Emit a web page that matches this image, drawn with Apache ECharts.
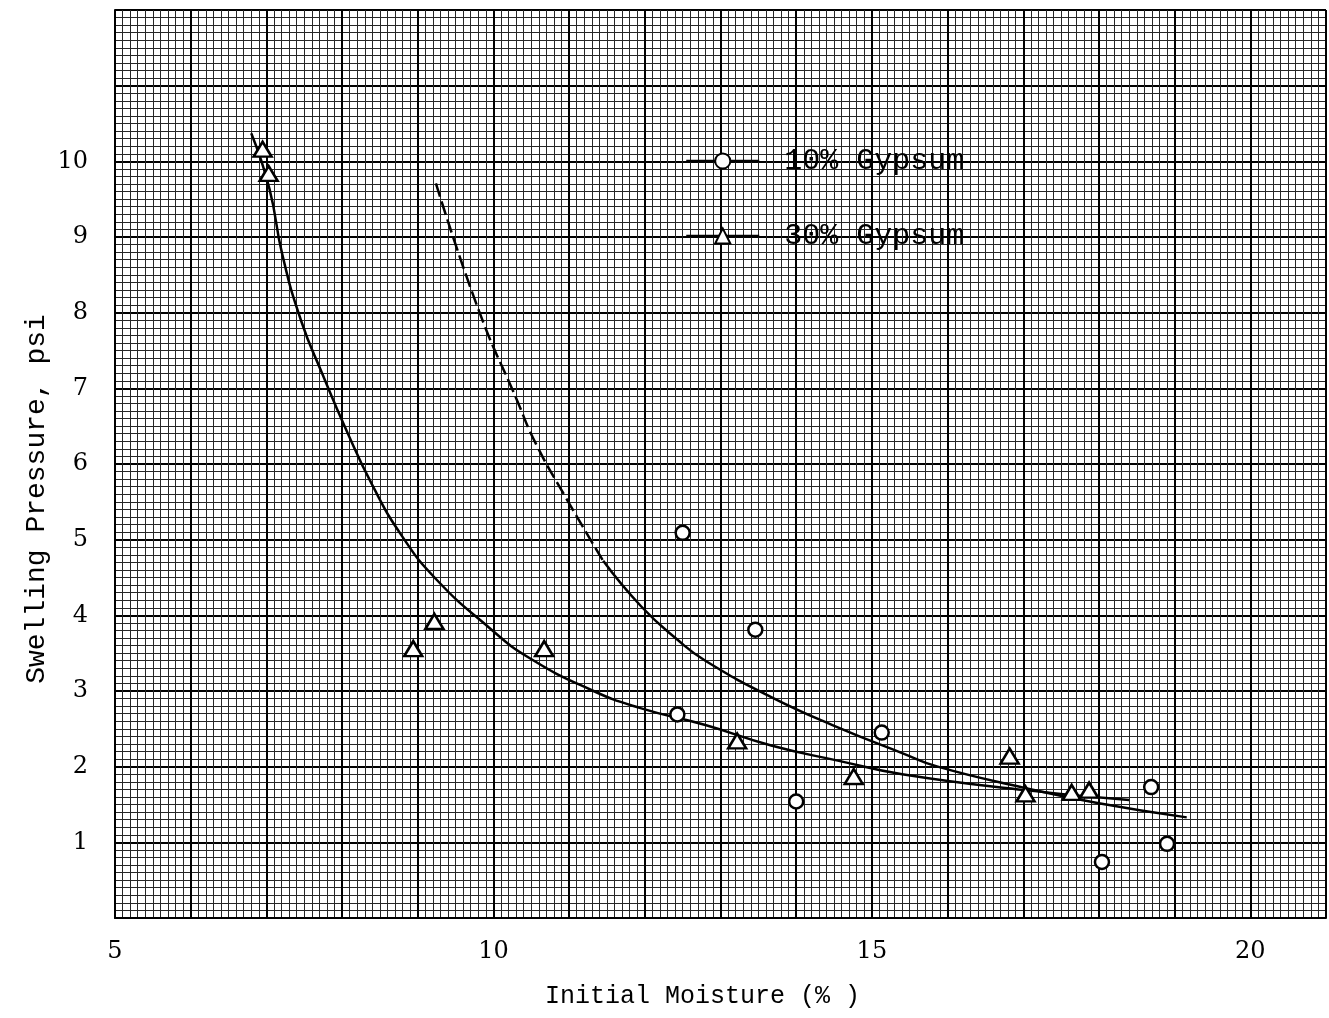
<!DOCTYPE html>
<html>
<head>
<meta charset="utf-8">
<script src="https://cdn.jsdelivr.net/npm/echarts@6/dist/echarts.min.js"></script>
<style>
html,body{margin:0;padding:0;background:#fff;}
#chart{width:1329px;height:1018px;}
</style>
</head>
<body>
<div id="chart"></div>
<script>
// ---- data ----
var xTickLabels = [5, 10, 15, 20];
var yTickLabels = [1, 2, 3, 4, 5, 6, 7, 8, 9, 10];

var gypsum10Points = [
  [12.50, 5.09], [13.46, 3.81], [12.43, 2.69], [15.13, 2.45],
  [14.00, 1.54], [18.69, 1.73], [18.04, 0.74], [18.90, 0.98]
];
var gypsum30Points = [
  [6.95, 10.16], [7.03, 9.84], [8.94, 3.56], [9.22, 3.92], [10.67, 3.56],
  [13.22, 2.34], [14.76, 1.87], [16.82, 2.14], [17.03, 1.64],
  [17.64, 1.66], [17.87, 1.69]
];
// fitted curve for 30% gypsum (solid)
var curve30 = [
  [6.80, 10.37], [7.04, 9.64], [7.21, 8.77], [7.46, 7.89], [7.74, 7.19],
  [8.06, 6.44], [8.40, 5.72], [8.79, 5.05], [9.24, 4.48], [9.94, 3.84],
  [10.47, 3.44], [11.30, 3.01], [11.92, 2.78], [12.80, 2.55], [13.67, 2.28],
  [14.55, 2.08], [15.40, 1.90], [17.02, 1.69], [18.40, 1.56]
];
// fitted curve for 10% gypsum: dashed upper part, solid lower part
var curve10Dashed = [
  [9.24, 9.71], [9.81, 8.02], [10.30, 6.87], [10.56, 6.27], [10.96, 5.55], [11.45, 4.72]
];
var curve10Solid = [
  [11.45, 4.72], [11.95, 4.12], [12.44, 3.67], [12.80, 3.40], [13.67, 2.92], [14.55, 2.52],
  [15.40, 2.18], [15.87, 2.00], [17.02, 1.72], [17.98, 1.52], [19.16, 1.33]
];
var seriesNames = ['10% Gypsum', '30% Gypsum'];
var xTitle = 'Initial Moisture (% )';
var yTitle = 'Swelling Pressure, psi';

var chart = echarts.init(document.getElementById('chart'), null, {renderer: 'canvas'});
var tickFont = 'DejaVu Serif';
var labelFont = 'Liberation Mono';

var curveStyle = {color: '#000', width: 2.5};

function legendCfg(name, top) {
  return {
    data: [name], left: 685, top: top, padding: 0,
    itemWidth: 73, itemHeight: 19,
    lineStyle: {color: '#000', width: 2.5, opacity: 1, type: 'solid'},
    textStyle: {color: '#000', fontFamily: labelFont, fontSize: 30, lineHeight: 30, padding: [0, 0, 0, 20]}
  };
}

var option = {
  backgroundColor: '#fff',
  animation: false,
  grid: {left: 115, right: 0, top: 10, bottom: 100, containLabel: false},
  xAxis: {
    type: 'value', min: 5, max: 21, interval: 1,
    axisLine: {show: true, onZero: false, lineStyle: {color: '#000', width: 2}},
    axisTick: {show: false},
    axisLabel: {
      color: '#000', fontFamily: tickFont, fontSize: 24, margin: 22,
      formatter: function (v) { return xTickLabels.indexOf(v) >= 0 ? String(v) : ''; }
    },
    splitLine: {show: true, lineStyle: {color: '#000', width: 2}},
    minorTick: {show: false, splitNumber: 10},
    minorSplitLine: {show: true, lineStyle: {color: '#262626', width: 1}}
  },
  yAxis: {
    type: 'value', min: 0, max: 12, interval: 1,
    axisLine: {show: true, onZero: false, lineStyle: {color: '#000', width: 2}},
    axisTick: {show: false},
    axisLabel: {
      color: '#000', fontFamily: tickFont, fontSize: 24, margin: 27,
      formatter: function (v) { return yTickLabels.indexOf(v) >= 0 ? String(v) : ''; }
    },
    splitLine: {show: true, lineStyle: {color: '#000', width: 2}},
    minorTick: {show: false, splitNumber: 10},
    minorSplitLine: {show: true, lineStyle: {color: '#262626', width: 1}}
  },
  legend: [legendCfg(seriesNames[0], 146), legendCfg(seriesNames[1], 221)],
  graphic: [
    {
      type: 'text', left: 545, top: 984,
      style: {text: xTitle, fill: '#000', font: '25px "Liberation Mono"', textAlign: 'left'}
    },
    {
      type: 'text', x: 37, y: 499, rotation: Math.PI / 2,
      style: {text: yTitle, fill: '#000', font: '28px "Liberation Mono"', textAlign: 'center', textVerticalAlign: 'middle'}
    }
  ],
  series: [
    {
      name: 'c30', type: 'line', data: curve30, smooth: 0.5,
      showSymbol: false, silent: true, lineStyle: curveStyle, z: 3
    },
    {
      name: 'c10d', type: 'line', data: curve10Dashed, smooth: 0.5,
      showSymbol: false, silent: true, lineStyle: {color: '#000', width: 2.5, type: [14, 5]}, z: 3
    },
    {
      name: 'c10s', type: 'line', data: curve10Solid, smooth: 0.5,
      showSymbol: false, silent: true, lineStyle: curveStyle, z: 3
    },
    {
      name: seriesNames[0], type: 'line', data: gypsum10Points,
      symbol: 'circle', symbolSize: 14, showSymbol: true,
      lineStyle: {opacity: 0, width: 0},
      itemStyle: {color: '#fff', borderColor: '#000', borderWidth: 2.5},
      z: 5
    },
    {
      name: seriesNames[1], type: 'line', data: gypsum30Points,
      symbol: 'triangle', symbolSize: [18, 15], showSymbol: true,
      lineStyle: {opacity: 0, width: 0},
      itemStyle: {color: '#fff', borderColor: '#000', borderWidth: 2.5},
      z: 5
    }
  ]
};
chart.setOption(option);
</script>
</body>
</html>
